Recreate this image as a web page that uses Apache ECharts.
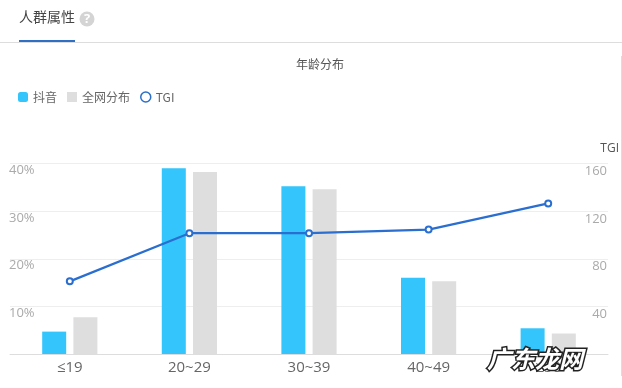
<!DOCTYPE html>
<html><head><meta charset="utf-8">
<style>html,body{margin:0;padding:0;background:#fff}#c{width:622px;height:388px}</style>
<script src="https://cdn.jsdelivr.net/npm/echarts@6/dist/echarts.min.js"></script>
</head><body><div id="c"></div>
<script>
const categories = ['≤19','20~29','30~39','40~49','≥50'];
const douyin = [4.7,39,35.2,16,5.4];
const overall = [7.7,38.2,34.6,15.3,4.3];
const tgi = [61,101.5,101.5,104.5,126.5];
const FONT = '"Noto Sans CJK SC","Noto Sans",sans-serif';
const LATIN = '"Open Sans","Noto Sans CJK SC",sans-serif';
const chart = echarts.init(document.getElementById('c'));
chart.setOption({
  animation:false,
  backgroundColor:'#fff',
  textStyle:{fontFamily:FONT},
  title:{text:'年龄分布',left:315,top:53,textAlign:'center',textStyle:{fontSize:12,fontWeight:'normal',color:'#555',fontFamily:FONT}},
  legend:{left:13,top:86,itemWidth:10,itemHeight:10,itemGap:10,textStyle:{fontSize:12,color:'#666',padding:[0,0,0,0]},
    data:[{name:'抖音',icon:'roundRect'},{name:'全网分布',icon:'rect'},{name:'TGI',icon:'circle',itemStyle:{color:'#fff',borderColor:'#2a6fc9',borderWidth:1.5}}]},
  grid:{left:10,right:14,top:163.5,bottom:34,containLabel:false},
  xAxis:{type:'category',data:categories,axisTick:{show:false},axisLine:{lineStyle:{color:'#ddd'}},
    axisLabel:{fontSize:15,color:'#666',margin:6,fontFamily:LATIN}},
  yAxis:[
   {type:'value',min:0,max:40,interval:10,axisLine:{show:false},axisTick:{show:false},
    splitLine:{lineStyle:{color:'#eee'}},
    axisLabel:{inside:true,margin:-1,showMinLabel:false,fontSize:13,color:'#aaa',formatter:'{value}%',verticalAlign:'top',lineHeight:14,fontFamily:LATIN}},
   {type:'value',min:0,max:160,interval:40,position:'right',axisLine:{show:false},axisTick:{show:false},splitLine:{show:false},
    name:'TGI',nameGap:9,nameTextStyle:{fontSize:12,color:'#555',align:'right',padding:[0,-11,0,0],fontFamily:LATIN},
    axisLabel:{inside:true,margin:1,showMinLabel:false,fontSize:13,color:'#aaa',verticalAlign:'top',lineHeight:16,fontFamily:LATIN}}
  ],
  series:[
   {name:'抖音',type:'bar',data:douyin,barWidth:24,barGap:'30%',itemStyle:{color:'#33c5fb'}},
   {name:'全网分布',type:'bar',data:overall,barWidth:24,itemStyle:{color:'#dedede'}},
   {name:'TGI',type:'line',yAxisIndex:1,data:tgi,symbol:'circle',symbolSize:6,showAllSymbol:true,
    lineStyle:{color:'#2a6fd0',width:2.2},itemStyle:{color:'#fff',borderColor:'#2a6fd0',borderWidth:2},z:5}
  ],
  graphic:[
   {type:'rect',shape:{x:0,y:42,width:622,height:1},style:{fill:'#ddd'},silent:true},
   {type:'rect',shape:{x:19,y:40,width:56,height:2},style:{fill:'#2f6fc4'},silent:true},
   {type:'text',x:19,y:10,style:{text:'人群属性',font:'14px '+FONT,fill:'#444'}},
   {type:'circle',shape:{cx:87,cy:19,r:7.5},style:{fill:'#d4d4d4'}},
   {type:'text',x:87,y:19,style:{text:'?',font:'bold 13px '+LATIN,fill:'#fff',textAlign:'center',textVerticalAlign:'middle'}},
   {type:'rect',shape:{x:621,y:56,width:1,height:320},style:{fill:'#ddd'},silent:true},
   {type:'rect',z:50,shape:{x:0,y:376,width:622,height:12},style:{fill:'#fff'},silent:true},
   {type:'text',z:60,x:535,y:359,style:{text:'广东龙网',font:'italic bold 24px '+FONT,fill:'#fff',stroke:'#222',lineWidth:3,textAlign:'center',textVerticalAlign:'middle'}}
  ]
});
</script></body></html>
